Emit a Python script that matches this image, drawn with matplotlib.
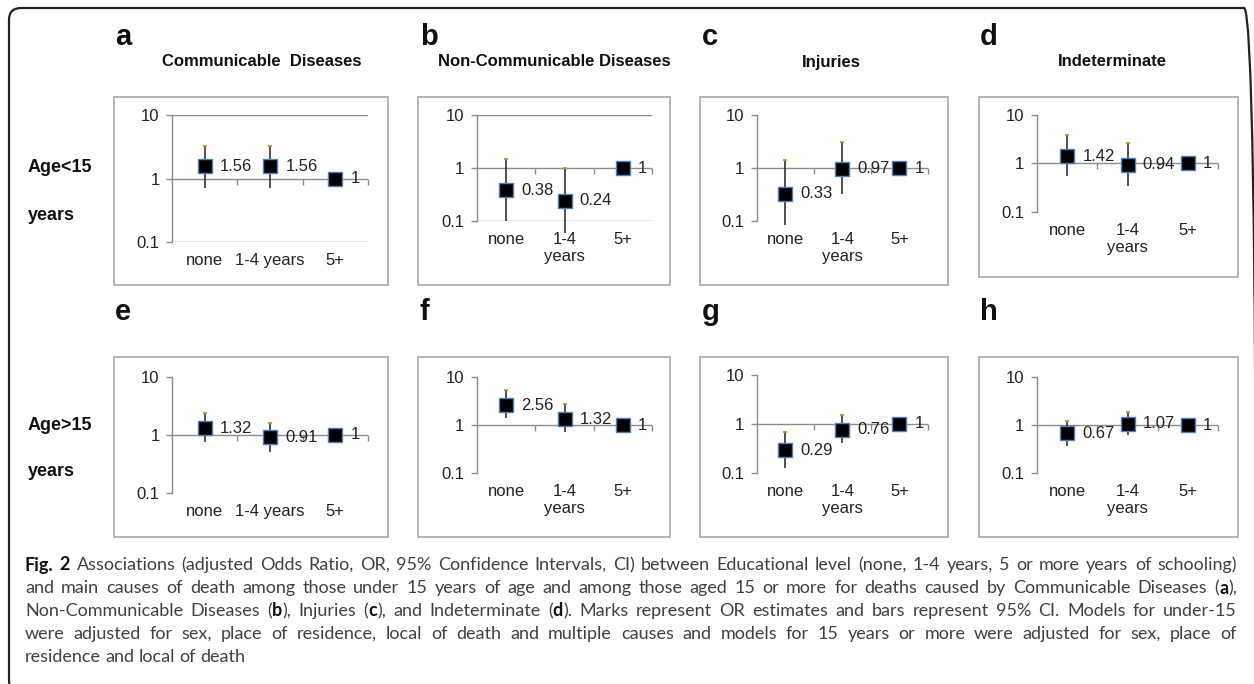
"""
Fig. 2 - adjusted odds ratios (95% CI) of cause of death by educational level,
two age groups x four cause groups, Excel-style small multiples.
"""

import re
import numpy as np
import matplotlib
matplotlib.use('Agg')
import matplotlib.pyplot as plt
from matplotlib.patches import Rectangle, FancyBboxPatch
from matplotlib.transforms import IdentityTransform
from matplotlib.ticker import FixedLocator, NullLocator

# ---------------------------------------------------------------------------
# Data
# ---------------------------------------------------------------------------

cause_titles = ['Communicable  Diseases', 'Non-Communicable Diseases', 'Injuries', 'Indeterminate']
panel_letters = ['a', 'b', 'c', 'd', 'e', 'f', 'g', 'h']
row_labels = [('Age<15', 'years'), ('Age>15', 'years')]

categories = ['none', '1-4 years', '5+']
categories_wrapped = ['none', '1-4\nyears', '5+']

# under 15
or_a = [1.56, 1.56, 1]
lo_a = [0.72, 0.72, 1]
hi_a = [3.3, 3.2, 1]

or_b = [0.38, 0.24, 1]
lo_b = [0.10, 0.059, 1]
hi_b = [1.48, 1.0, 1]

or_c = [0.33, 0.97, 1]
lo_c = [0.083, 0.33, 1]
hi_c = [1.4, 3.1, 1]

or_d = [1.42, 0.94, 1]
lo_d = [0.54, 0.35, 1]
hi_d = [3.8, 2.6, 1]

# 15 and over
or_e = [1.32, 0.91, 1]
lo_e = [0.76, 0.51, 1]
hi_e = [2.4, 1.6, 1]

or_f = [2.56, 1.32, 1]
lo_f = [1.4, 0.71, 1]
hi_f = [5.4, 2.7, 1]

or_g = [0.29, 0.76, 1]
lo_g = [0.126, 0.41, 1]
hi_g = [0.69, 1.5, 1]

or_h = [0.67, 1.07, 1]
lo_h = [0.36, 0.63, 1]
hi_h = [1.2, 1.9, 1]

caption_lines = [
    '**Fig. 2** Associations (adjusted Odds Ratio, OR, 95% Confidence Intervals, CI) between Educational level (none, 1-4 years, 5 or more years of schooling)',
    'and main causes of death among those under 15 years of age and among those aged 15 or more for deaths caused by Communicable Diseases (**a**),',
    'Non-Communicable Diseases (**b**), Injuries (**c**), and Indeterminate (**d**). Marks represent OR estimates and bars represent 95% CI. Models for under-15',
    'were adjusted for sex, place of residence, local of death and multiple causes and models for 15 years or more were adjusted for sex, place of',
    'residence and local of death',
]

# ---------------------------------------------------------------------------
# Layout / style (pixels, y measured from the top)
# ---------------------------------------------------------------------------

W, H, DPI = 1254, 684, 100
FONT = 'Liberation Sans'
CAP_FONT = 'Lato'
CAP_SIZE = 13
AXIS_GREY = '#8c8c8c'
BOX_GREY = '#a8a8a8'
TEXT = '#222222'
ERR = '#333333'
CAP_GREEN = '#7fb241'
EDGE_BLUE = '#4f81bd'

# panel frame boxes: x0, y0, x1, y1
boxes = [(114, 97, 388, 285), (418, 97, 670, 285), (700, 97, 948, 285), (979, 97, 1238, 277),
         (114, 357, 388, 537), (418, 357, 670, 537), (700, 357, 948, 537), (979, 357, 1238, 537)]
# plot areas: x0, x1, y(10), y(0.1)
areas = [(172, 368, 115, 242), (477, 652, 115, 221), (757, 928, 115, 221), (1037, 1218, 115, 212),
         (172, 368, 377, 493), (477, 652, 377, 473), (757, 928, 375, 473), (1037, 1218, 377, 473)]
letter_x = [115, 420, 702, 980]
letter_base = [45, 320]
title_x = [262, 554, 831, 1112]
title_y = 62
row_label_y = [(168, 215), (425, 472)]

fig = plt.figure(figsize=(W / DPI, H / DPI), dpi=DPI)
fig.patch.set_facecolor('white')
px = IdentityTransform()


def panel(ax, odds, lo, hi, xlabels, grid):
    x = np.arange(1, 4)
    ax.set_yscale('log')
    ax.set_ylim(0.1, 10)
    ax.set_xlim(0.5, 3.5)
    ax.patch.set_alpha(0)
    for s in ['top', 'right', 'bottom']:
        ax.spines[s].set_visible(False)
    ax.spines['left'].set_color(AXIS_GREY)
    ax.spines['left'].set_linewidth(1.0)

    ax.yaxis.set_major_locator(FixedLocator([0.1, 1, 10]))
    ax.yaxis.set_minor_locator(NullLocator())
    ax.set_yticklabels(['0.1', '1', '10'])
    ax.tick_params(axis='y', direction='out', length=4, width=1, color=AXIS_GREY,
                   pad=5, labelsize=12, labelcolor=TEXT)
    ax.set_xticks(x, xlabels)
    ax.tick_params(axis='x', length=0, pad=8, labelsize=12, labelcolor=TEXT)
    for lab in ax.get_xticklabels():
        lab.set_linespacing(1.15)
    for lab in ax.get_xticklabels() + ax.get_yticklabels():
        lab.set_family(FONT)

    if grid:
        for v in (0.1, 10):
            ax.axhline(v, color=AXIS_GREY, lw=1.0, zorder=1)
    ax.axhline(1, color=AXIS_GREY, lw=1.0, zorder=1)
    ax.plot([1.5, 2.5, 3.5], [1, 1, 1], ls='none', marker=3, ms=4, mew=1.0,
            color=AXIS_GREY, clip_on=False, zorder=1)

    # 95% CI bars + tiny green end cap (Excel look)
    ax.vlines(x, lo, hi, color=ERR, lw=1.2, clip_on=False, zorder=3)
    ax.plot(x, hi, ls='none', marker='_', ms=3, mew=1.3, color=CAP_GREEN, clip_on=False, zorder=3)
    ax.plot(x, odds, ls='none', marker='s', ms=9.5, mfc='black', mec=EDGE_BLUE, mew=1.0,
            clip_on=False, zorder=4)
    for xi, v in zip(x, odds):
        ax.annotate(f'{v:g}', (xi, v), xytext=(11, 0), textcoords='offset points',
                    ha='left', va='center', fontsize=12, color=TEXT, family=FONT,
                    annotation_clip=False, zorder=5)


panel_data = [(or_a, lo_a, hi_a), (or_b, lo_b, hi_b), (or_c, lo_c, hi_c), (or_d, lo_d, hi_d),
              (or_e, lo_e, hi_e), (or_f, lo_f, hi_f), (or_g, lo_g, hi_g), (or_h, lo_h, hi_h)]

for i, (odds, lo, hi) in enumerate(panel_data):
    bx0, by0, bx1, by1 = boxes[i]
    fig.add_artist(Rectangle((bx0, H - by1), bx1 - bx0, by1 - by0, transform=px,
                             fill=False, ec=BOX_GREY, lw=1.2))
    x0, x1, yt, yb = areas[i]
    ax = fig.add_axes([x0 / W, 1 - yb / H, (x1 - x0) / W, (yb - yt) / H])
    xlabels = categories if i % 4 == 0 else categories_wrapped
    panel(ax, odds, lo, hi, xlabels, grid=(i in (0, 1)))

    col, row = i % 4, i // 4
    fig.text(letter_x[col], H - letter_base[row], panel_letters[i], transform=px,
             fontsize=21, weight='bold', family=FONT, va='baseline', ha='left', color='#111111')

for col, title in enumerate(cause_titles):
    fig.text(title_x[col], H - title_y, title, transform=px, fontsize=12, weight='bold',
             family=FONT, ha='center', va='center', color='#111111')

for (top, bottom), (y1, y2) in zip(row_labels, row_label_y):
    fig.text(28, H - y1, top, transform=px, fontsize=13, weight='bold', family=FONT,
             ha='left', va='center', color='#111111')
    fig.text(28, H - y2, bottom, transform=px, fontsize=13, weight='bold', family=FONT,
             ha='left', va='center', color='#111111')

# outer rounded frame (right and bottom edges run off the image)
fig.add_artist(FancyBboxPatch((9, H - 692), 1247, 684, boxstyle='round,pad=0,rounding_size=12',
                              transform=px, fill=False, ec='#222222', lw=1.6))

# ---------------------------------------------------------------------------
# Caption, justified like the journal layout
# ---------------------------------------------------------------------------

def parse_words(line):
    words = [[]]
    for part in re.split(r'(\*\*.*?\*\*)', line):
        if not part:
            continue
        bold = part.startswith('**')
        txt = part.strip('*') if bold else part
        for k, chunk in enumerate(txt.split(' ')):
            if k > 0:
                words.append([])
            if chunk:
                words[-1].append((chunk, bold))
    return [w for w in words if w]


renderer = fig.canvas.get_renderer()
CAP_X0, CAP_X1 = 25, 1237
cap_y = [565, 588, 611, 634, 657]

for li, (y, line) in enumerate(zip(cap_y, caption_lines)):
    items = []
    for word in parse_words(line):
        parts, width = [], 0.0
        for txt, bold in word:
            t = fig.text(0, H - y, txt, transform=px, fontsize=CAP_SIZE, family=CAP_FONT,
                         weight='bold' if bold else 'normal', ha='left', va='center',
                         color='#111111' if bold else '#404040')
            w = t.get_window_extent(renderer).width
            parts.append((t, w))
            width += w
        items.append((parts, width))
    total = sum(w for _, w in items)
    space = CAP_SIZE * DPI / 72 * 0.24
    if li < len(caption_lines) - 1:
        gap = max((CAP_X1 - CAP_X0 - total) / (len(items) - 1), space * 0.6)
    else:
        gap = space
    xpos = CAP_X0
    for parts, width in items:
        for t, w in parts:
            t.set_position((xpos, H - y))
            xpos += w
        xpos += gap

fig.savefig('out.png', dpi=DPI)
